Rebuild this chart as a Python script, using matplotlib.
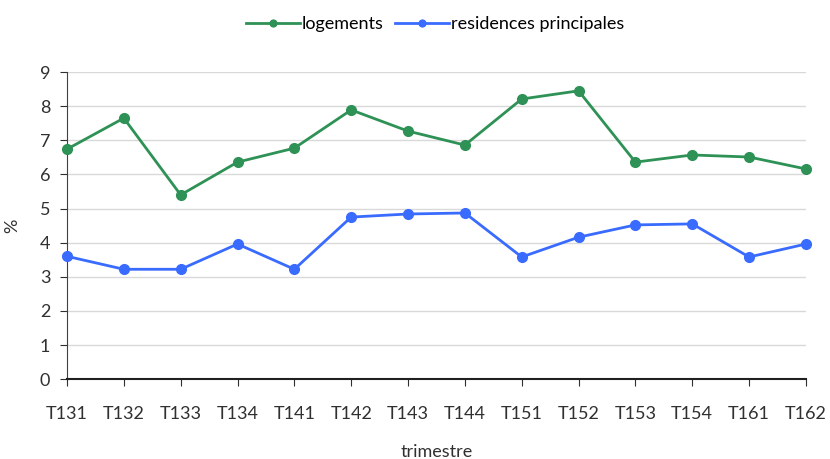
import matplotlib.pyplot as plt
import numpy as np

trimestres = ['T131', 'T132', 'T133', 'T134', 'T141', 'T142', 'T143',
              'T144', 'T151', 'T152', 'T153', 'T154', 'T161', 'T162']
logements = [6.74, 7.65, 5.40, 6.36, 6.77, 7.89, 7.27,
             6.86, 8.21, 8.45, 6.36, 6.57, 6.51, 6.16]
residences = [3.60, 3.22, 3.22, 3.96, 3.22, 4.75, 4.84,
              4.87, 3.58, 4.16, 4.52, 4.55, 3.58, 3.96]

plt.rcParams['font.family'] = ['Lato', 'DejaVu Sans']

fig = plt.figure(figsize=(8.3, 4.59), dpi=100)
ax = fig.add_axes([0.0807, 0.174, 0.8903, 0.669])

x = np.arange(len(trimestres))
ax.plot(x, logements, color='#2e9155', lw=2, marker='o', ms=7, label='logements', clip_on=False, zorder=3)
ax.plot(x, residences, color='#3a6bff', lw=2, marker='o', ms=7, label='residences principales', clip_on=False, zorder=3)

ax.set_xlim(0, len(trimestres) - 1)
ax.set_ylim(0, 9)
ax.set_yticks(range(0, 10))
ax.set_xticks(x)
ax.set_xticklabels(trimestres)
ax.grid(axis='y', color='#d9d9d9', lw=1)
ax.set_axisbelow(True)
for s in ['top', 'right']:
    ax.spines[s].set_visible(False)
ax.spines['left'].set_color('#404040')
ax.spines['bottom'].set_color('#202020')
ax.spines['bottom'].set_linewidth(1.5)
ax.tick_params(axis='both', labelsize=13, colors='#303030', length=5)
ax.tick_params(axis='x', pad=14)
ax.tick_params(axis='y', pad=7)

ax.set_xlabel('trimestre', fontsize=13, color='#303030', labelpad=16)
ax.set_ylabel('%', fontsize=13, color='#303030', labelpad=14)

fig.legend(loc='upper center', bbox_to_anchor=(0.524, 1.0), ncol=2, frameon=False,
           fontsize=13, handlelength=3.0, handletextpad=0.1, columnspacing=0.6,
           markerscale=0.7)

fig.savefig('out.png', dpi=100)
